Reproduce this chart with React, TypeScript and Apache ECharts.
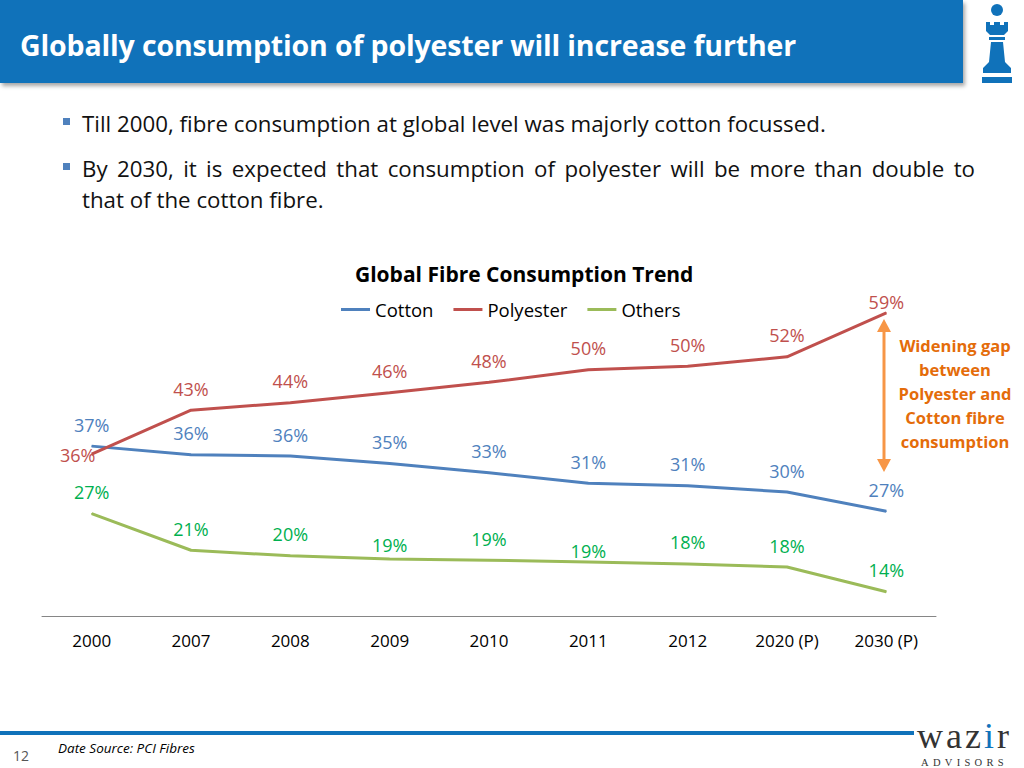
import React, { useEffect, useRef } from "react";
import * as echarts from "echarts";

const categories = ["2000", "2007", "2008", "2009", "2010", "2011", "2012", "2020 (P)", "2030 (P)"];
const cotton = [37.4, 36.0, 35.8, 34.6, 33.1, 31.4, 31.0, 30.0, 26.9];
const polyester = [36.1, 43.2, 44.4, 46.0, 47.7, 49.7, 50.3, 51.8, 58.9];
const others = [26.5, 20.6, 19.7, 19.2, 19.0, 18.7, 18.4, 17.9, 13.9];
const seriesNames = ["Cotton", "Polyester", "Others"];
const annotationLines = ["Widening gap", "between", "Polyester and", "Cotton fibre", "consumption"];

// label nudges (style only), keyed by series index -> point index
const labelOffsets: Record<number, Record<number, [number, number]>> = {
  1: { 0: [-14, 22], 8: [0, 11] },
  2: { 3: [0, 8], 5: [0, 10] },
};

const FONT = "'Open Sans', Lato, sans-serif";
const BLUE = "#1072BA";

function makeSeries(idx: number, values: number[], lineColor: string, labelColor: string) {
  const offs = labelOffsets[idx] || {};
  return {
    name: seriesNames[idx],
    type: "line",
    data: values.map((v, i) =>
      offs[i] ? { value: v, label: { offset: offs[i] } } : v
    ),
    symbol: "circle",
    symbolSize: 1,
    showSymbol: true,
    lineStyle: { color: lineColor, width: 3 },
    itemStyle: { color: lineColor },
    label: {
      show: true,
      position: "top",
      distance: 12,
      color: labelColor,
      fontSize: 18,
      fontFamily: FONT,
      formatter: (p: any) => Math.round(p.value) + "%",
    },
  };
}

function Chart() {
  const ref = useRef<HTMLDivElement>(null);
  useEffect(() => {
    if (!ref.current) return;
    const chart = echarts.init(ref.current, null, { renderer: "svg" });
    const arrowColor = "#F79646";
    chart.setOption({
      animation: false,
      title: {
        text: "Global Fibre Consumption Trend",
        left: 350,
        top: 258,
        textStyle: { fontFamily: FONT, fontSize: 21, fontWeight: "bold", color: "#000" },
      },
      legend: {
        left: 341,
        top: 300,
        padding: 0,
        icon: "rect",
        itemWidth: 29,
        itemHeight: 3,
        itemGap: 20,
        textStyle: { fontFamily: FONT, fontSize: 18.5, color: "#000" },
        data: seriesNames,
      },
      grid: { left: 42, right: 88, top: 306, bottom: 152 },
      xAxis: {
        type: "category",
        data: categories,
        boundaryGap: true,
        axisLine: { lineStyle: { color: "#868686", width: 1 } },
        axisTick: { show: false },
        axisLabel: { color: "#000", fontSize: 17, fontFamily: FONT, margin: 16 },
      },
      yAxis: { type: "value", min: 10, max: 60, show: false, splitLine: { show: false } },
      series: [
        makeSeries(0, cotton, "#4F81BD", "#4F81BD"),
        makeSeries(1, polyester, "#C0504D", "#C0504D"),
        makeSeries(2, others, "#9BBB59", "#00B050"),
      ],
      graphic: [
        { type: "line", shape: { x1: 884, y1: 328, x2: 884, y2: 464 }, style: { stroke: arrowColor, lineWidth: 3 } },
        { type: "polygon", shape: { points: [[884, 319], [877, 332], [891, 332]] }, style: { fill: arrowColor } },
        { type: "polygon", shape: { points: [[884, 472], [877, 459], [891, 459]] }, style: { fill: arrowColor } },
        ...annotationLines.map((t, i) => ({
          type: "text",
          x: 955,
          y: 345 + i * 24,
          style: {
            text: t,
            fill: "#E46C0A",
            font: `bold 16.5px ${FONT}`,
            textAlign: "center",
            textVerticalAlign: "middle",
          },
        })),
      ],
    });
    return () => chart.dispose();
  }, []);
  return <div ref={ref} style={{ position: "absolute", left: 0, top: 0, width: 1024, height: 768 }} />;
}

const bulletText: React.CSSProperties = {
  position: "absolute",
  left: 82,
  width: 893,
  fontSize: 22.3,
  lineHeight: "31px",
  color: "#111",
  whiteSpace: "nowrap",
};

function Square({ top }: { top: number }) {
  return <div style={{ position: "absolute", left: 63, top, width: 7, height: 7, background: "#4F81BD" }} />;
}

const SERIF = "'Liberation Serif', 'DejaVu Serif', serif";

export default function App() {
  return (
    <div style={{ position: "fixed", left: 0, top: 0, width: 1024, height: 768, background: "#fff", fontFamily: FONT, overflow: "hidden" }}>
      <Chart />
      <div style={{ position: "absolute", left: 0, top: 0, width: 963, height: 83, background: BLUE, boxShadow: "2px 3px 4px rgba(0,0,0,0.35)" }} />
      <div style={{ position: "absolute", left: 20, top: 25, fontSize: 28.5, fontWeight: 700, color: "#fff", lineHeight: "40px", whiteSpace: "nowrap", letterSpacing: -0.15 }}>
        Globally consumption of polyester will increase further
      </div>
      <svg style={{ position: "absolute", left: 975, top: 0 }} width={45} height={88} viewBox="0 0 45 88">
        <g fill={BLUE}>
          <circle cx={22} cy={10} r={6} />
          <polygon points="11,22 15,22 15,25 19,25 19,22 25,22 25,25 29,25 29,22 33,22 33,31 29,35 15,35 11,31" />
          <rect x={14} y={37} width={16} height={3} />
          <polygon points="16,42 28,42 30,62 36,68 36,73 8,73 8,68 14,62" />
          <rect x={7} y={77} width={30} height={6} />
        </g>
      </svg>
      <Square top={118} />
      <div style={{ ...bulletText, top: 108 }}>Till 2000, fibre consumption at global level was majorly cotton focussed.</div>
      <Square top={163} />
      <div style={{ ...bulletText, top: 153, textAlign: "justify", textAlignLast: "justify" as any, whiteSpace: "normal" }}>
        By 2030, it is expected that consumption of polyester will be more than double to
      </div>
      <div style={{ ...bulletText, top: 184 }}>that of the cotton fibre.</div>
      <div style={{ position: "absolute", left: 0, top: 731, width: 914, height: 4, background: BLUE }} />
      <div style={{ position: "absolute", left: 13, top: 746, fontSize: 14, color: "#555" }}>12</div>
      <div style={{ position: "absolute", left: 58, top: 739, fontSize: 13.5, fontStyle: "italic", color: "#000" }}>Date Source: PCI Fibres</div>
      <div style={{ position: "absolute", left: 917, top: 719, fontFamily: SERIF, fontSize: 36, lineHeight: "34px", height: 34, color: "#333", letterSpacing: 3, whiteSpace: "nowrap" }}>
        waz<span style={{ color: BLUE }}>i</span>r
      </div>
      <div style={{ position: "absolute", left: 921, top: 757, fontFamily: SERIF, fontSize: 10.5, lineHeight: "11px", letterSpacing: 4.3, color: "#333", whiteSpace: "nowrap" }}>
        ADVISORS
      </div>
    </div>
  );
}
